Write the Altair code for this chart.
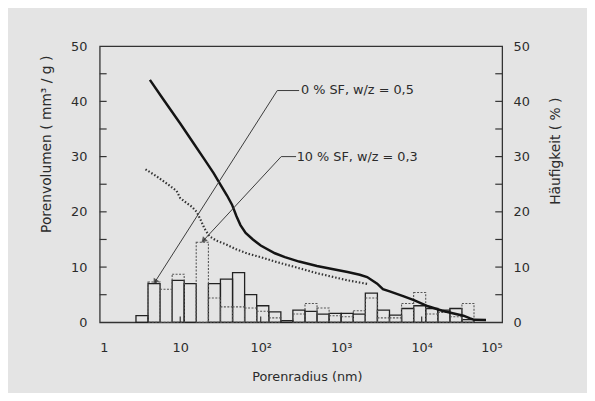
import altair as alt
import pandas as pd

# ---------------- data ----------------
# cumulative pore volume curves (x: pore radius nm, y: mm3/g)
solid_r = [4.2, 6, 10, 15, 20, 26, 32, 38, 44, 50, 56, 65, 80, 100, 150, 200, 300, 500,
           800, 1200, 1700, 2100, 2800, 3300, 4000, 6000, 8000, 12000, 18000, 25000,
           33000, 40000, 45000, 63000]
solid_v = [43.9, 40.6, 36.0, 32.2, 29.5, 27.0, 24.8, 23.0, 21.3, 19.2, 17.6, 16.2, 15.0,
           13.9, 12.5, 11.8, 11.0, 10.2, 9.6, 9.1, 8.6, 8.2, 7.0, 6.0, 5.6, 4.7, 4.0, 2.9,
           2.1, 1.6, 1.2, 0.7, 0.45, 0.4]

dotted_r = [3.7, 5, 7, 9, 10, 12, 14, 16, 18, 20, 23, 28, 36, 50, 70, 100, 150, 200, 300,
            500, 800, 1200, 1700, 2200]
dotted_v = [27.7, 26.5, 25.0, 23.8, 22.5, 21.6, 20.9, 20.0, 18.5, 17.0, 15.6, 14.8, 14.2,
            13.2, 12.4, 11.8, 11.0, 10.5, 9.8, 8.9, 8.2, 7.6, 7.2, 6.9]

# histogram bins (pore radius nm) and frequencies (%)
bin_lo = [2.82, 3.98, 5.62, 7.94, 11.2, 15.8, 22.4, 31.6, 44.7, 63.1, 89.1, 126, 178, 251,
          355, 501, 708, 1000, 1413, 1995, 2818, 3981, 5623, 7943, 11220, 15850, 22390, 31620]
bin_hi = [3.98, 5.62, 7.94, 11.2, 15.8, 22.4, 31.6, 44.7, 63.1, 89.1, 126, 178, 251, 355,
          501, 708, 1000, 1413, 1995, 2818, 3981, 5623, 7943, 11220, 15850, 22390, 31620, 44670]
freq_solid = [1.2, 7.0, 0, 7.6, 7.0, 0, 7.0, 7.8, 9.0, 5.0, 3.0, 1.9, 0.3, 2.2,
              2.0, 1.5, 1.6, 1.6, 1.5, 5.3, 2.2, 1.3, 2.5, 3.0, 2.5, 2.2, 2.5, 0.5]
freq_dotted = [0, 7.3, 6.0, 8.7, 0, 14.5, 4.4, 2.8, 2.8, 2.6, 2.0, 0.8, 0, 1.5,
               3.4, 2.6, 1.2, 1.0, 2.1, 4.4, 0.8, 0.8, 3.4, 5.4, 1.5, 1.8, 1.0, 3.4]

# annotations
label_text = ["0 % SF, w/z = 0,5", "10 % SF, w/z = 0,3"]
label_r = [316, 280]
label_v = [41.96, 30.0]
lead_g = ["a", "a", "a", "b", "b", "b"]
lead_r = [300, 160.7, 4.86, 275, 179.8, 19.4]
lead_v = [41.96, 41.96, 7.32, 30.0, 30.0, 14.8]

y_ticks = [5, 10, 15, 20, 25, 30, 35, 40, 45]
x_ticks = [10, 100, 1000, 10000]
x_labels = [1, 10, 100, 1000, 10000, 100000]

# ---------------- chart ----------------
FONT = "DejaVu Sans"
INK = "#2b2b2b"

xs = alt.Scale(type="log", domain=[1, 100000], nice=False)
ys = alt.Scale(domain=[0, 50], nice=False)

solid_df = pd.DataFrame({"r": solid_r, "v": solid_v})
dotted_df = pd.DataFrame({"r": dotted_r, "v": dotted_v})
hs = pd.DataFrame({"lo": bin_lo, "hi": bin_hi, "h": freq_solid})
hs = hs[hs.h > 0]
hd = pd.DataFrame({"lo": bin_lo, "hi": bin_hi, "h": freq_dotted})
hd = hd[hd.h > 0]
lead_df = pd.DataFrame({"g": lead_g, "r": lead_r, "v": lead_v, "o": list(range(len(lead_g)))})
lab_df = pd.DataFrame({"t": label_text, "r": label_r, "v": label_v})

xaxis = alt.Axis(values=x_labels, title="Porenradius  (nm)", grid=False, domain=False,
                 ticks=False, labelFontSize=13, labelFont=FONT, labelColor=INK,
                 labelBaseline="middle", labelPadding=26,
                 labelExpr="datum.value == 1 ? '1' : datum.value == 10 ? '10' : datum.value == 100 ? '10²' : datum.value == 1000 ? '10³' : datum.value == 10000 ? '10⁴' : '10⁵'",
                 titleFont=FONT, titleFontSize=13, titleFontWeight="normal", titleColor=INK,
                 titleX=210, titleY=55, titleBaseline="middle")

left_axis = alt.Axis(values=[0, 10, 20, 30, 40, 50], title="Porenvolumen ( mm³ / g )",
                     grid=False, domain=False, ticks=False, labelFontSize=13, labelFont=FONT,
                     labelColor=INK, labelPadding=13, titleFont=FONT, titleFontSize=14,
                     titleFontWeight="normal", titleColor=INK, titleAngle=270,
                     titleX=-54, titleY=99, titleBaseline="middle", titleAlign="center")

right_axis = alt.Axis(values=[0, 10, 20, 30, 40, 50], title="Häufigkeit ( % )", orient="right",
                      grid=False, domain=False, ticks=False, labelFontSize=13, labelFont=FONT,
                      labelColor=INK, labelPadding=11, titleFont=FONT, titleFontSize=14,
                      titleFontWeight="normal", titleColor=INK, titleAngle=270,
                      titleX=54, titleY=106, titleBaseline="middle", titleAlign="center")

hist_s = alt.Chart(hs).mark_rect(fill=None, stroke="#222", strokeWidth=1.3).encode(
    x=alt.X("lo:Q", scale=xs, axis=xaxis), x2="hi:Q",
    y=alt.Y("h:Q", scale=ys, axis=right_axis), y2=alt.datum(0))

hist_d = alt.Chart(hd).mark_rect(fill=None, stroke="#555", strokeWidth=1.1,
                                 strokeDash=[2, 1.5]).encode(
    x=alt.X("lo:Q", scale=xs), x2="hi:Q",
    y=alt.Y("h:Q", scale=ys, axis=None), y2=alt.datum(0))

curve_s = alt.Chart(solid_df).mark_line(color="#141414", strokeWidth=2.5).encode(
    x=alt.X("r:Q", scale=xs), y=alt.Y("v:Q", scale=ys, axis=left_axis))

curve_d = alt.Chart(dotted_df).mark_line(color="#333", strokeWidth=2.2,
                                         strokeDash=[1.5, 2]).encode(
    x=alt.X("r:Q", scale=xs), y=alt.Y("v:Q", scale=ys, axis=None))

leads = alt.Chart(lead_df).mark_line(color="#3a3a3a", strokeWidth=1).encode(
    x=alt.X("r:Q", scale=xs), y=alt.Y("v:Q", scale=ys, axis=None), detail="g:N", order="o:Q")

arrow_a = alt.Chart(lead_df.iloc[[2]]).mark_point(shape="triangle-up", filled=True,
                                                  color="#222", size=45, angle=212).encode(
    x=alt.X("r:Q", scale=xs), y=alt.Y("v:Q", scale=ys, axis=None))
arrow_b = alt.Chart(lead_df.iloc[[5]]).mark_point(shape="triangle-up", filled=True,
                                                  color="#222", size=45, angle=223).encode(
    x=alt.X("r:Q", scale=xs), y=alt.Y("v:Q", scale=ys, axis=None))

labels = alt.Chart(lab_df).mark_text(align="left", baseline="middle", font=FONT,
                                     fontSize=13, color=INK).encode(
    x=alt.X("r:Q", scale=xs), y=alt.Y("v:Q", scale=ys, axis=None), text="t:N")

tick_df = pd.DataFrame({"v": y_ticks})
lticks = alt.Chart(tick_df).mark_rule(color="#333", strokeWidth=1.2).encode(
    y=alt.Y("v:Q", scale=ys, axis=None), x=alt.value(0), x2=alt.value(7))
rticks = alt.Chart(tick_df).mark_rule(color="#333", strokeWidth=1.2).encode(
    y=alt.Y("v:Q", scale=ys, axis=None), x=alt.value(401), x2=alt.value(408))
bticks = alt.Chart(pd.DataFrame({"r": x_ticks})).mark_rule(color="#333", strokeWidth=1.2).encode(
    x=alt.X("r:Q", scale=xs), y=alt.value(280), y2=alt.value(274))

chart = alt.layer(hist_s, hist_d, curve_d, curve_s, leads, arrow_a, arrow_b, labels,
                  lticks, rticks, bticks).resolve_scale(y="independent").properties(
    width=408, height=280,
    autosize=alt.AutoSizeParams(type="none"),
    padding={"left": 93, "top": 36, "right": 86, "bottom": 69},
    background="#e4e4e4",
).configure_view(stroke="#333", strokeWidth=1.3)

chart.save("out.html", embed_options={"renderer": "svg", "actions": False})
